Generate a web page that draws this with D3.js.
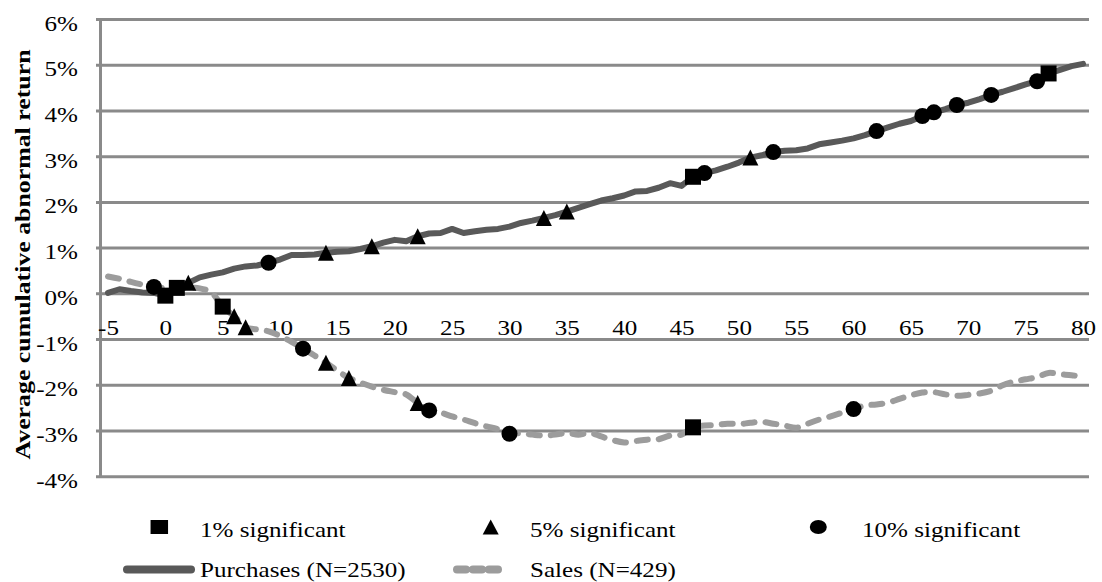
<!DOCTYPE html>
<html>
<head>
<meta charset="utf-8">
<script src="https://cdn.jsdelivr.net/npm/d3@7"></script>
<style>
  body { margin: 0; background: #fff; }
  text { font-family: "Liberation Serif", "Times New Roman", serif; fill: #000; }
</style>
</head>
<body>
<div class="chart"></div>
<script>
(function(){

// event days -5 .. 80
var days = d3.range(-5, 81);
var yTicks = [-4, -3, -2, -1, 0, 1, 2, 3, 4, 5, 6];

// average cumulative abnormal return, in %
var purchases = [0.02, 0.10, 0.06, 0.03, 0.02, -0.04, 0.13, 0.24, 0.36, 0.42,
                 0.47, 0.55, 0.60, 0.62, 0.68, 0.75, 0.85, 0.85, 0.86, 0.90,
                 0.92, 0.93, 0.98, 1.04, 1.12, 1.18, 1.15, 1.26, 1.32, 1.33,
                 1.42, 1.33, 1.37, 1.40, 1.42, 1.47, 1.55, 1.60, 1.66, 1.72,
                 1.80, 1.88, 1.96, 2.04, 2.09, 2.15, 2.24, 2.25, 2.32, 2.42,
                 2.36, 2.56, 2.64, 2.70, 2.78, 2.87, 2.98, 3.03, 3.10, 3.13,
                 3.14, 3.18, 3.27, 3.31, 3.35, 3.40, 3.47, 3.56, 3.64, 3.72,
                 3.78, 3.89, 3.97, 4.04, 4.13, 4.18, 4.26, 4.35, 4.42, 4.50,
                 4.58, 4.65, 4.82, 4.90, 4.98, 5.03];
var sales = [0.38, 0.33, 0.26, 0.20, 0.15, 0.12, 0.12, 0.13, 0.12, 0.03,
             -0.28, -0.49, -0.73, -0.78, -0.82, -0.92, -1.05, -1.20, -1.35, -1.51,
             -1.68, -1.84, -1.94, -2.03, -2.10, -2.15, -2.20, -2.39, -2.55, -2.60,
             -2.68, -2.75, -2.83, -2.90, -2.96, -3.06, -3.05, -3.08, -3.10, -3.08,
             -3.04, -3.08, -3.04, -3.12, -3.20, -3.25, -3.22, -3.19, -3.18, -3.10,
             -3.08, -2.92, -2.88, -2.87, -2.84, -2.85, -2.82, -2.80, -2.84, -2.88,
             -2.93, -2.84, -2.75, -2.68, -2.60, -2.52, -2.44, -2.42, -2.38, -2.30,
             -2.22, -2.16, -2.15, -2.20, -2.23, -2.21, -2.18, -2.12, -2.00, -1.92,
             -1.87, -1.82, -1.73, -1.76, -1.78, -1.82];

// days with significant returns
var sig1Purchases = [0, 1, 46, 77];
var sig5Purchases = [2, 14, 18, 22, 33, 35, 51];
var sig10Purchases = [9, 47, 53, 62, 66, 67, 69, 72, 76];
var sig1Sales = [5, 46];
var sig5Sales = [6, 7, 14, 16, 22];
var sig10Sales = [-1, 12, 23, 30, 60];

var width = 1102, height = 582;
var left = 100.5, right = 1089, top = 19.5, bottom = 476.7;
var gridCol = "#8a8a8a", purchCol = "#595959", salesCol = "#9c9c9c";
var stretchK = 1.14;

var svg = d3.select(".chart").append("svg")
    .attr("width", width)
    .attr("height", height);

var x = d3.scalePoint().domain(days).range([108, 1083]);
var y = d3.scaleLinear().domain([-4, 6]).range([bottom, top]);

// widen text a bit, the original font runs wide
function stretch(sel, k){
    sel.each(function(){
        var len = this.getComputedTextLength();
        d3.select(this).attr("textLength", len * k).attr("lengthAdjust", "spacingAndGlyphs");
    });
}

// gridlines
svg.append("g").selectAll("line")
    .data(yTicks)
    .enter().append("line")
    .attr("x1", left - 4.5).attr("x2", right)
    .attr("y1", function(d){ return y(d); })
    .attr("y2", function(d){ return y(d); })
    .attr("stroke", gridCol)
    .attr("stroke-width", 3);

svg.append("line")
    .attr("x1", left).attr("x2", left)
    .attr("y1", top).attr("y2", bottom)
    .attr("stroke", gridCol)
    .attr("stroke-width", 3);

// y axis labels
var yAxis = svg.append("g")
    .attr("transform", "translate(" + left + ",0)")
    .call(d3.axisLeft(y).tickValues(yTicks).tickSize(0).tickPadding(22.5)
        .tickFormat(function(d){ return d + "%"; }));
yAxis.select(".domain").remove();
yAxis.selectAll("text")
    .attr("dy", "0.48em")
    .style("font-size", "22px")
    .attr("font-family", null);
stretch(yAxis.selectAll("text"), stretchK);

// x axis labels sit under the 0% line
var xAxis = svg.append("g")
    .attr("transform", "translate(0," + y(0) + ")")
    .call(d3.axisBottom(x).tickSize(0).tickPadding(25.6)
        .tickValues(days.filter(function(d){ return d % 5 === 0; })));
xAxis.select(".domain").remove();
xAxis.selectAll("text")
    .style("font-size", "22px")
    .attr("font-family", null);
stretch(xAxis.selectAll("text"), stretchK);

// y axis title
var title = svg.append("text")
    .attr("transform", "translate(30,254.5) rotate(-90)")
    .attr("text-anchor", "middle")
    .style("font-size", "22px")
    .style("font-weight", "bold")
    .text("Average cumulative abnormal return");
title.attr("textLength", 410).attr("lengthAdjust", "spacingAndGlyphs");

// lines
var purchLine = d3.line()
    .x(function(d, i){ return x(days[i]); })
    .y(function(d){ return y(d); });
var salesLine = d3.line()
    .x(function(d, i){ return x(days[i]); })
    .y(function(d){ return y(d); })
    .curve(d3.curveCatmullRom.alpha(0.5));

svg.append("path")
    .datum(purchases)
    .attr("d", purchLine)
    .attr("fill", "none")
    .attr("stroke", purchCol)
    .attr("stroke-width", 6)
    .attr("stroke-linejoin", "round")
    .attr("stroke-linecap", "round");

svg.append("path")
    .datum(sales)
    .attr("d", salesLine)
    .attr("fill", "none")
    .attr("stroke", salesCol)
    .attr("stroke-width", 6)
    .attr("stroke-dasharray", "11,11")
    .attr("stroke-linecap", "round");

// marker shapes
function square(g, cx, cy, w, h){
    g.append("rect").attr("x", cx - w / 2).attr("y", cy - h / 2)
        .attr("width", w).attr("height", h).attr("fill", "#000");
}
function triangle(g, cx, cy, w, h){
    g.append("path")
        .attr("d", "M" + cx + "," + (cy - h / 2) + "L" + (cx + w / 2) + "," + (cy + h / 2) +
              "L" + (cx - w / 2) + "," + (cy + h / 2) + "Z")
        .attr("fill", "#000");
}
function circle(g, cx, cy, w, h){
    g.append("ellipse").attr("cx", cx).attr("cy", cy)
        .attr("rx", w / 2).attr("ry", h / 2).attr("fill", "#000");
}

var marks = svg.append("g");
function addMarks(list, series, shape){
    list.forEach(function(d){
        var v = series[days.indexOf(d)];
        shape(marks, x(d), y(v), 16, 16);
    });
}
addMarks(sig5Sales, sales, triangle);
addMarks(sig1Sales, sales, square);
addMarks(sig10Sales, sales, circle);
addMarks(sig5Purchases, purchases, triangle);
addMarks(sig1Purchases, purchases, square);
addMarks(sig10Purchases, purchases, circle);

// legend
var legend = svg.append("g");
square(legend, 159.3, 527, 17.5, 14);
triangle(legend, 490.7, 527, 16, 15);
circle(legend, 818.3, 527, 17, 14);

legend.append("line")
    .attr("x1", 127).attr("x2", 191).attr("y1", 569.5).attr("y2", 569.5)
    .attr("stroke", purchCol).attr("stroke-width", 8).attr("stroke-linecap", "round");
legend.append("line")
    .attr("x1", 457).attr("x2", 505).attr("y1", 569.5).attr("y2", 569.5)
    .attr("stroke", salesCol).attr("stroke-width", 8)
    .attr("stroke-dasharray", "9,7").attr("stroke-linecap", "round");

var legendItems = [
    {label: "1% significant", x: 200, y: 537},
    {label: "5% significant", x: 530, y: 537},
    {label: "10% significant", x: 862, y: 537},
    {label: "Purchases (N=2530)", x: 200, y: 577},
    {label: "Sales (N=429)", x: 530, y: 577}
];
var legendText = legend.selectAll(".ltext")
    .data(legendItems)
    .enter().append("text")
    .attr("class", "ltext")
    .attr("x", function(d){ return d.x; })
    .attr("y", function(d){ return d.y; })
    .style("font-size", "22px")
    .text(function(d){ return d.label; });
stretch(legendText, stretchK);

})();
</script>
</body>
</html>
